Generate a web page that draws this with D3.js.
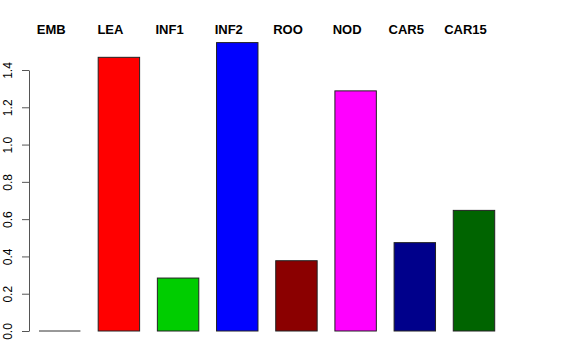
<!DOCTYPE html>
<html>
<head>
<meta charset="utf-8">
<script src="https://cdn.jsdelivr.net/npm/d3@7"></script>
<style>
  body { margin: 0; background: #fff; }
  text { font-family: "Liberation Sans", Arial, sans-serif; }
</style>
</head>
<body>
<div class="content"></div>
<script>
const categories = ["EMB", "LEA", "INF1", "INF2", "ROO", "NOD", "CAR5", "CAR15"];
const values = [0, 1.468, 0.284, 1.547, 0.377, 1.288, 0.474, 0.647];
const colors = ["#ffffff", "#ff0000", "#00cd00", "#0000ff", "#8b0000", "#ff00ff", "#00008b", "#006400"];
const yTicks = [0, 0.2, 0.4, 0.6, 0.8, 1.0, 1.2, 1.4];

const width = 576;
const height = 360;

const xScale = d3.scaleBand()
  .domain(categories)
  .range([39, 494.7])
  .paddingInner(0.3)
  .paddingOuter(0);

const yScale = d3.scaleLinear().domain([0, 1.4]).range([331, 70]);

const svg = d3
  .select(".content")
  .append("svg")
  .attr("width", width)
  .attr("height", height);

//--> bars
svg
  .selectAll("rect.bar")
  .data(categories)
  .enter()
  .append("rect")
  .attr("class", "bar")
  .attr("x", d => xScale(d))
  .attr("y", (d, i) => yScale(values[i]))
  .attr("width", xScale.bandwidth())
  .attr("height", (d, i) => yScale(0) - yScale(values[i]))
  .attr("fill", (d, i) => colors[i])
  .attr("stroke", "#222")
  .attr("stroke-width", 1);

//--> zero-height bars still show as a flat line
svg
  .selectAll("line.zero")
  .data(categories.filter((d, i) => values[i] === 0))
  .enter()
  .append("line")
  .attr("class", "zero")
  .attr("x1", d => xScale(d))
  .attr("x2", d => xScale(d) + xScale.bandwidth())
  .attr("y1", yScale(0))
  .attr("y2", yScale(0))
  .attr("stroke", "#333")
  .attr("stroke-width", 1);

//--> category labels on top
svg
  .selectAll("text.cat")
  .data(categories)
  .enter()
  .append("text")
  .attr("class", "cat")
  .attr("x", d => xScale(d) + xScale.bandwidth() / 2 - 8.5)
  .attr("y", 34)
  .attr("text-anchor", "middle")
  .attr("font-size", 13)
  .attr("font-weight", "bold")
  .text(d => d);

//--> y axis
const yAxis = d3
  .axisLeft(yScale)
  .tickValues(yTicks)
  .tickSize(7)
  .tickSizeOuter(0)
  .tickFormat(d3.format(".1f"));

const yG = svg
  .append("g")
  .attr("id", "y-axis")
  .attr("transform", "translate(29, 0)")
  .call(yAxis);

yG.select(".domain").attr("stroke", "#555");
yG.selectAll(".tick line").attr("stroke", "#555");
yG.selectAll(".tick text")
  .attr("font-size", 12)
  .attr("font-family", "Liberation Sans, Arial, sans-serif")
  .attr("fill", "#000")
  .attr("transform", "rotate(-90)")
  .attr("x", 0)
  .attr("y", -21)
  .attr("dy", "0.35em")
  .attr("text-anchor", "middle");
</script>
</body>
</html>
